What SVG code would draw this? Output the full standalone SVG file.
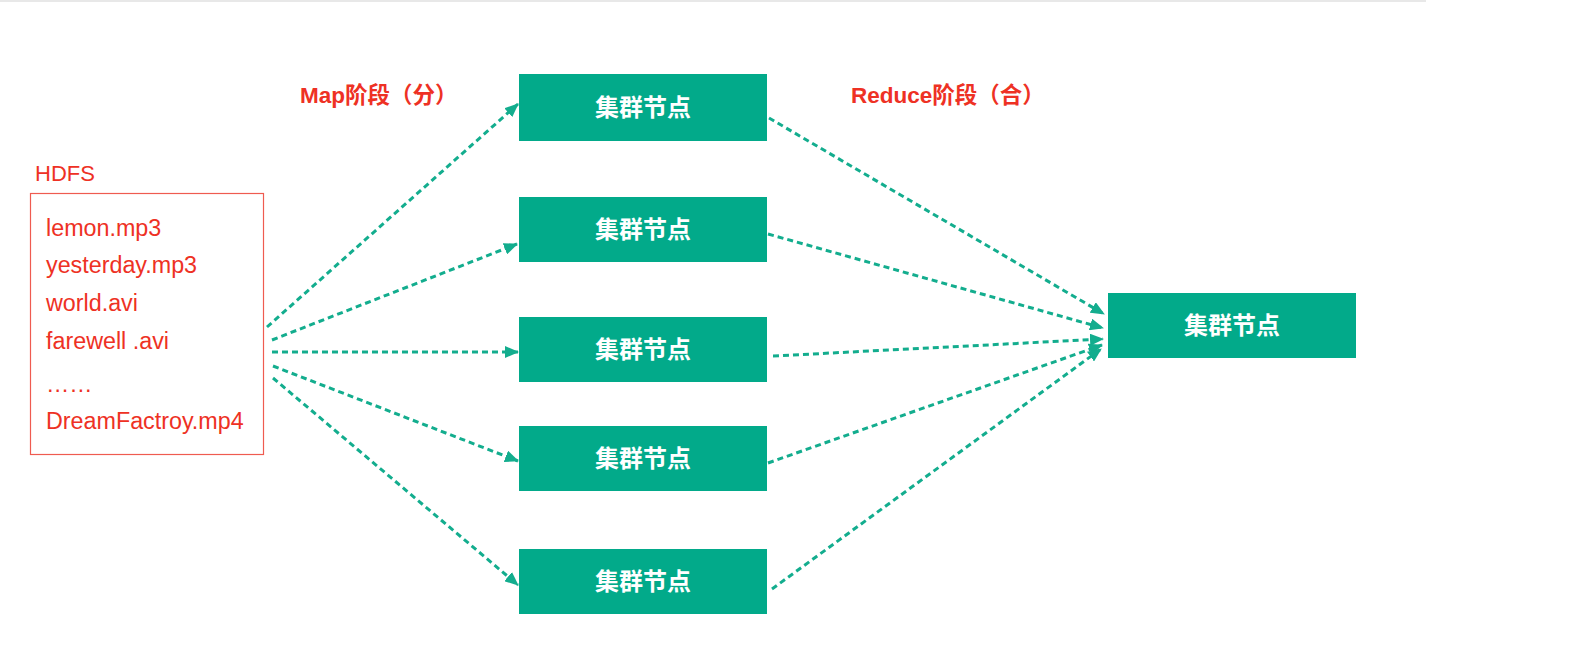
<svg xmlns="http://www.w3.org/2000/svg" width="1575" height="665" viewBox="0 0 1575 665">
<style>
.node rect { fill: #02aa8a; }
.node text { font-family: "Liberation Sans", "Noto Sans CJK SC", sans-serif; font-size: 24px; font-weight: bold; fill: #ffffff; text-anchor: middle; dominant-baseline: central; }
.red { font-family: "Liberation Sans", "Noto Sans CJK SC", sans-serif; fill: #ee3124; }
.file { font-size: 23.3px; }
.stage { font-size: 22.5px; font-weight: bold; }
.conn line { stroke: #13ad8e; stroke-width: 3; stroke-dasharray: 6 4; fill: none; marker-end: url(#arr); }
</style>
<defs>
<marker id="arr" viewBox="0 0 14 12" refX="13" refY="6" markerWidth="14" markerHeight="12" markerUnits="userSpaceOnUse" orient="auto">
<path d="M0,0 L14,6 L0,12 Z" fill="#13ad8e"/>
</marker>
</defs>
<rect x="0" y="0" width="1426" height="2" fill="#e8e8e8"/>

<g id="hdfs">
<text class="red" x="35" y="181" font-size="22">HDFS</text>
<rect x="30.5" y="193.5" width="233" height="261" fill="none" stroke="#ef5b50" stroke-width="1.2"/>
<text class="red file" x="46" y="236">lemon.mp3</text>
<text class="red file" x="46" y="272.5">yesterday.mp3</text>
<text class="red file" x="46" y="311">world.avi</text>
<text class="red file" x="46" y="349">farewell .avi</text>
<text class="red file" x="46" y="392">……</text>
<text class="red file" x="46" y="429">DreamFactroy.mp4</text>
</g>

<g id="label-map"><text class="red stage" x="300" y="103">Map阶段（分）</text></g>
<g id="label-reduce"><text class="red stage" x="851" y="103">Reduce阶段（合）</text></g>

<g id="node1" class="node"><rect x="519" y="74" width="248" height="67"/><text x="643" y="107.5">集群节点</text></g>
<g id="node2" class="node"><rect x="519" y="197" width="248" height="65"/><text x="643" y="229.5">集群节点</text></g>
<g id="node3" class="node"><rect x="519" y="317" width="248" height="65"/><text x="643" y="349.5">集群节点</text></g>
<g id="node4" class="node"><rect x="519" y="426" width="248" height="65"/><text x="643" y="458.5">集群节点</text></g>
<g id="node5" class="node"><rect x="519" y="549" width="248" height="65"/><text x="643" y="581.5">集群节点</text></g>
<g id="node-reduce" class="node"><rect x="1108" y="293" width="248" height="65"/><text x="1232" y="325.5">集群节点</text></g>

<g id="connectors" class="conn">
<line x1="267" y1="327" x2="518" y2="104"/>
<line x1="272" y1="340" x2="517" y2="244"/>
<line x1="272" y1="352" x2="518" y2="352"/>
<line x1="273" y1="366" x2="518" y2="461"/>
<line x1="273" y1="378" x2="518" y2="585"/>
<line x1="769" y1="118" x2="1104" y2="314"/>
<line x1="768" y1="234" x2="1103" y2="328"/>
<line x1="773" y1="356" x2="1103" y2="339"/>
<line x1="768" y1="463" x2="1102" y2="345"/>
<line x1="772" y1="589" x2="1101" y2="349"/>
</g>
</svg>
